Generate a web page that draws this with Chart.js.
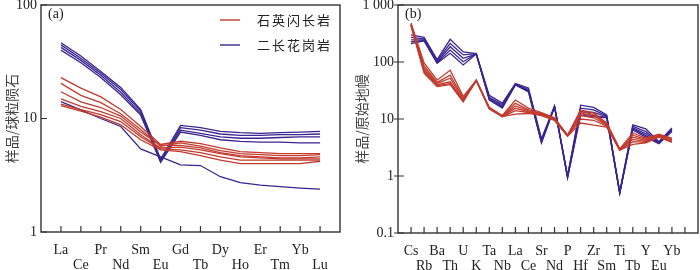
<!DOCTYPE html>
<html>
<head>
<meta charset="utf-8">
<script src="https://cdn.jsdelivr.net/npm/chart.js@4.4.1/dist/chart.umd.min.js"></script>
<style>
  body { margin: 0; background: #fff; }
  .wrap { position: relative; width: 700px; height: 270px; }
  canvas { position: absolute; top: 0; }
  #chartA { left: 0; }
  #chartB { left: 350px; }
</style>
</head>
<body>
<div class="wrap">
  <canvas id="chartA" width="350" height="270"></canvas>
  <canvas id="chartB" width="350" height="270"></canvas>
</div>
<script>
const reeElements = ['La', 'Ce', 'Pr', 'Nd', 'Sm', 'Eu', 'Gd', 'Tb', 'Dy', 'Ho', 'Er', 'Tm', 'Yb', 'Lu'];
const spiderElements = ['Cs', 'Rb', 'Ba', 'Th', 'U', 'K', 'Ta', 'Nb', 'La', 'Ce', 'Sr', 'Nd', 'P', 'Hf', 'Zr', 'Sm', 'Ti', 'Tb', 'Y', 'Eu', 'Yb'];
const groupNames = ['石英闪长岩', '二长花岗岩'];
const groupColors = ['#c23b2e', '#3a2690'];

// (a) chondrite normalised REE
const reeDiorite = [
  [22.9, 18.5, 15.5, 12.0, 8.5, 5.9, 6.3, 6.0, 5.5, 5.1, 5.0, 4.9, 4.9, 4.9],
  [20.4, 16.0, 13.8, 11.0, 8.0, 5.7, 6.1, 5.7, 5.2, 4.9, 4.8, 4.7, 4.7, 4.8],
  [17.2, 14.0, 12.5, 10.5, 7.6, 5.8, 5.8, 5.5, 5.0, 4.7, 4.6, 4.5, 4.5, 4.6],
  [14.9, 12.8, 11.5, 10.0, 7.2, 5.5, 5.6, 5.3, 4.9, 4.6, 4.5, 4.4, 4.4, 4.4],
  [13.4, 12.0, 10.8, 9.4, 6.9, 5.4, 5.3, 5.0, 4.6, 4.3, 4.3, 4.3, 4.3, 4.3],
  [13.0, 11.6, 10.3, 8.8, 6.5, 5.3, 5.1, 4.7, 4.3, 4.0, 4.0, 4.0, 4.0, 4.2]
];
const reeGranite = [
  [46.5, 35.5, 26.0, 18.8, 12.0, 4.4, 8.7, 8.3, 7.7, 7.5, 7.4, 7.5, 7.6, 7.7],
  [44.5, 34.0, 25.0, 18.0, 11.6, 4.2, 8.3, 7.9, 7.3, 7.1, 7.1, 7.2, 7.2, 7.3],
  [42.3, 32.5, 24.0, 17.0, 11.1, 4.3, 7.9, 7.4, 6.9, 6.7, 6.7, 6.8, 6.9, 6.9],
  [40.0, 31.0, 23.0, 16.2, 10.7, 4.1, 7.6, 7.1, 6.5, 6.3, 6.2, 6.2, 6.1, 6.1],
  [14.1, 11.9, 10.0, 8.5, 5.4, 4.6, 3.9, 3.85, 3.07, 2.72, 2.59, 2.51, 2.44, 2.39]
];

// (b) primitive mantle normalised trace elements
const spiderDiorite = [
  [480, 96, 48, 72, 25, 48, 16, 11.5, 21.5, 15.5, 13, 10.5, 5.2, 14.4, 12.8, 8.5, 3.0, 5.7, 4.6, 5.4, 4.6],
  [470, 85, 44, 59, 23, 48, 15.5, 11.3, 18.8, 14.5, 12.5, 10.2, 5.1, 13.5, 12, 8.2, 2.9, 5.2, 4.4, 5.2, 4.4],
  [460, 78, 42, 52, 22, 47, 15.4, 11.2, 16.9, 14, 12.3, 10, 5.2, 12.5, 11.5, 8.0, 2.9, 4.8, 4.2, 5.1, 4.3],
  [450, 72, 40, 45, 21, 48, 15.3, 11.1, 15.4, 13.5, 12, 9.8, 5.0, 11.5, 10.5, 7.8, 2.9, 4.4, 4.0, 5.0, 4.1],
  [440, 68, 38, 42, 20.5, 47, 15.2, 11, 14.0, 13, 11.8, 9.6, 5.1, 10, 9.5, 7.5, 2.85, 4.0, 3.9, 4.9, 4.0],
  [430, 64, 37, 40, 20, 48, 15, 11, 12.2, 12.5, 11.5, 9.5, 5.0, 8.5, 7.8, 7.2, 2.85, 3.6, 3.8, 4.8, 3.9]
];
const spiderGranite = [
  [300, 270, 110, 250, 150, 140, 26, 19, 42, 35, 4.5, 17, 1.0, 17.5, 16, 11.8, 0.52, 7.9, 6.7, 4.0, 7.0],
  [270, 255, 105, 212, 133, 140, 24, 18, 41, 33, 4.2, 16.5, 1.0, 15.5, 14.5, 11.3, 0.52, 7.4, 6.0, 3.9, 6.7],
  [245, 245, 100, 185, 116, 138, 23, 17, 40, 32, 4.0, 16.5, 0.98, 13.5, 13, 11, 0.5, 7.0, 5.5, 3.8, 6.4],
  [225, 240, 97, 162, 101, 140, 22, 16.2, 40, 31, 3.9, 16.4, 0.95, 12.5, 11.5, 10.7, 0.5, 6.7, 5.1, 3.8, 6.2],
  [210, 235, 95, 142, 89, 138, 21.5, 15.6, 39.6, 30, 3.8, 16.3, 0.92, 11.7, 11, 10.5, 0.5, 6.4, 4.8, 3.7, 6.0]
];

const yTicksA = [1, 10, 100];
const yTicksB = [0.1, 1, 10, 100, 1000];
const yTickTextB = ['0.1', '1', '10', '100', '1 000'];

const serif = { family: '"Liberation Serif", "Times New Roman", serif', size: 14, lineHeight: 1.12 };
const cjk = { family: '"Noto Sans CJK SC", sans-serif', size: 14 };

// frame, inward ticks, panel tag, legend
const framePlugin = {
  id: 'frame',
  afterDraw(chart, args, opts) {
    const { ctx, chartArea: a, scales } = chart;
    ctx.save();
    ctx.strokeStyle = '#333';
    ctx.lineWidth = 1.4;
    ctx.strokeRect(a.left, a.top, a.right - a.left, a.bottom - a.top);
    ctx.lineWidth = 1.2;
    ctx.beginPath();
    const n = scales.x.getLabels().length;
    for (let i = 1; i < n - 1; i++) {
      const px = scales.x.getPixelForValue(i);
      ctx.moveTo(px, a.bottom);
      ctx.lineTo(px, a.bottom - 6);
    }
    scales.y.ticks.forEach(t => {
      const py = scales.y.getPixelForValue(t.value);
      ctx.moveTo(a.left - opts.out, py);
      ctx.lineTo(a.left + 6, py);
    });
    ctx.stroke();

    ctx.fillStyle = '#222';
    ctx.textAlign = 'left';
    ctx.textBaseline = 'middle';
    ctx.font = '14px "Liberation Serif"';
    ctx.fillText(opts.tag, a.left + 7, a.top + 9);

    if (opts.legend) {
      ctx.font = '13px "Noto Sans CJK SC"';
      ctx.letterSpacing = '2px';
      groupNames.forEach((name, g) => {
        const y = a.top + 15 + g * 25;
        ctx.strokeStyle = groupColors[g];
        ctx.lineWidth = 1.4;
        ctx.beginPath();
        ctx.moveTo(a.left + 179, y);
        ctx.lineTo(a.left + 199, y);
        ctx.stroke();
        ctx.fillText(name, a.left + 216, y);
      });
    }
    ctx.restore();
  }
};

function lineSets(groups, padEnd) {
  const sets = [];
  groups.forEach((rows, g) => {
    rows.forEach(r => {
      sets.push({
        data: [null, ...r, ...new Array(padEnd).fill(null)],
        borderColor: groupColors[g],
        borderWidth: 1.3,
        pointRadius: 0,
        fill: false,
        spanGaps: false
      });
    });
  });
  return sets;
}

function makeChart(id, opt) {
  return new Chart(document.getElementById(id), {
    type: 'line',
    data: {
      labels: opt.labels,
      datasets: opt.datasets
    },
    options: {
      responsive: false,
      animation: false,
      layout: { padding: { top: 5, right: opt.padRight, left: 0, bottom: 0 } },
      plugins: {
        legend: { display: false },
        tooltip: { enabled: false },
        frame: { tag: opt.tag, out: opt.tickOut, legend: opt.legend }
      },
      scales: {
        x: {
          type: 'category',
          grid: { display: false, drawTicks: false },
          border: { display: false },
          ticks: {
            autoSkip: false,
            maxRotation: 0,
            padding: 10,
            color: '#222',
            font: serif,
            callback: function (value, index) {
              const name = this.getLabelForValue(value);
              return index % 2 === 1 ? name : ['', name];
            }
          },
          afterFit(s) {
            s.height = opt.xHeight;
            s.paddingLeft = 0;
            s.paddingRight = 0;
          }
        },
        y: {
          type: 'logarithmic',
          min: opt.yTicks[0],
          max: opt.yTicks[opt.yTicks.length - 1],
          grid: { display: false, drawTicks: false },
          border: { display: false },
          afterBuildTicks(s) {
            s.ticks = opt.yTicks.map(v => ({ value: v }));
          },
          ticks: {
            padding: 4,
            color: '#222',
            font: serif,
            callback: (v) => opt.yText[opt.yTicks.indexOf(v)]
          },
          title: {
            display: true,
            text: opt.yTitle,
            color: '#444',
            font: cjk,
            padding: { top: 3, bottom: 0 }
          },
          afterFit(s) {
            s.width = opt.yWidth;
            s.paddingTop = 0;
            s.paddingBottom = 0;
          }
        }
      }
    },
    plugins: [framePlugin]
  });
}

makeChart('chartA', {
  labels: ['', ...reeElements, ''],
  datasets: lineSets([reeDiorite, reeGranite], 1),
  yTicks: yTicksA,
  yText: yTicksA.map(String),
  yTitle: '样品/球粒陨石',
  yWidth: 41,
  xHeight: 38,
  padRight: 10,
  tag: '(a)',
  tickOut: 0,
  legend: true
});

makeChart('chartB', {
  labels: ['', ...spiderElements, '', ''],
  datasets: lineSets([spiderDiorite, spiderGranite], 2),
  yTicks: yTicksB,
  yText: yTickTextB,
  yTitle: '样品/原始地幔',
  yWidth: 48,
  xHeight: 37,
  padRight: 2,
  tag: '(b)',
  tickOut: 4,
  legend: false
});
</script>
</body>
</html>
